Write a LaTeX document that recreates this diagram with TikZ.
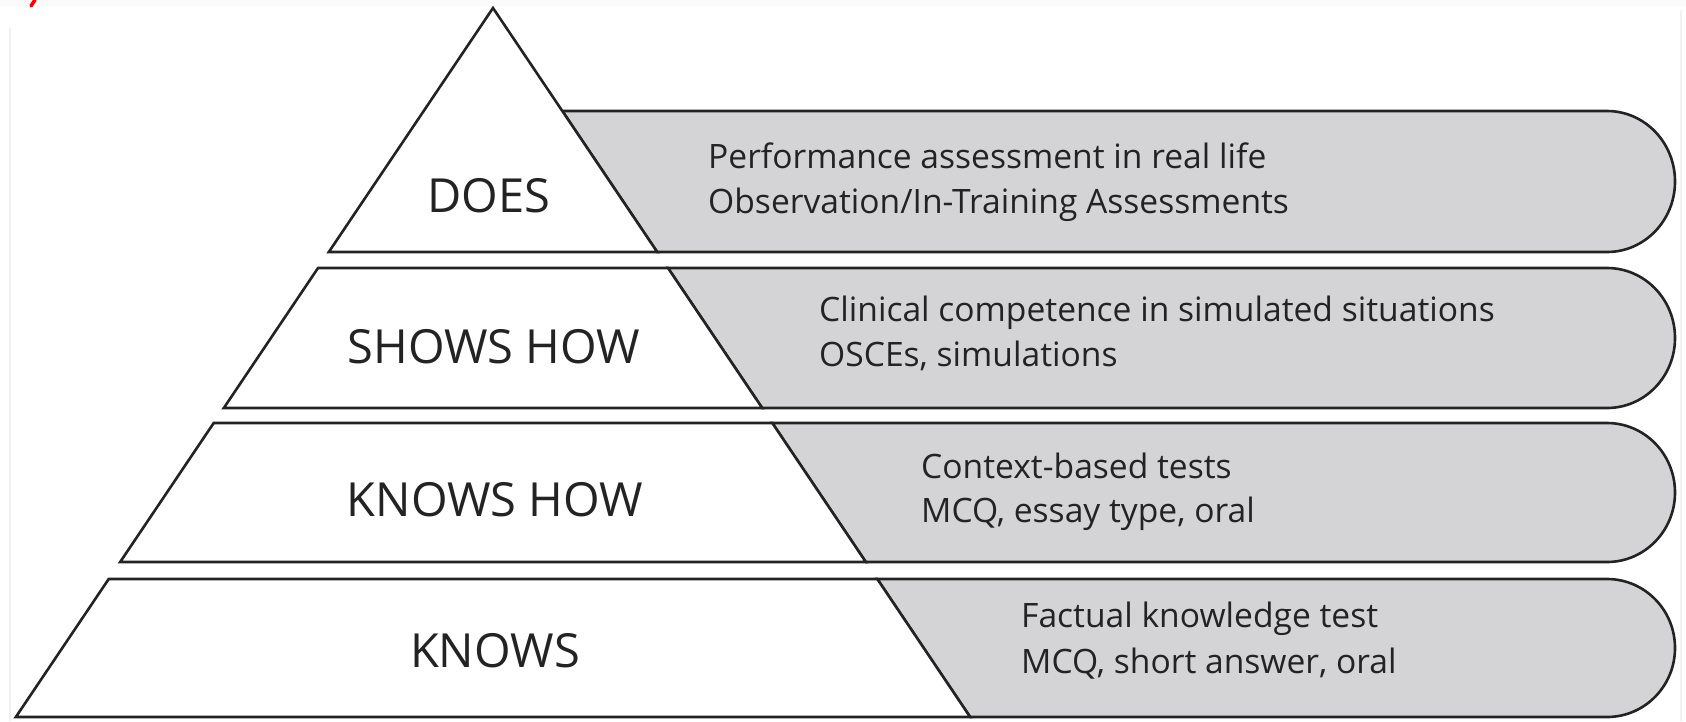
\documentclass[tikz,border=0pt]{standalone}
\usepackage{fontspec}
\setmainfont{Open Sans}
\definecolor{bandgray}{RGB}{212,212,214}
\definecolor{edgeblack}{RGB}{35,35,35}
\tikzset{
  tier/.style={fill=white, draw=edgeblack, line width=2.6pt, line join=miter},
  bandshape/.style={fill=bandgray, draw=edgeblack, line width=2.6pt, line join=miter},
  biglabel/.style={anchor=base, inner sep=0pt, font=\fontsize{47}{47}\selectfont, text=edgeblack},
  smalllabel/.style={anchor=base west, inner sep=0pt, font=\fontsize{33.6}{33.6}\selectfont, text=edgeblack},
}
\newcommand{\pyrband}[2]{%
  \pgfmathsetmacro{\pbxa}{493+0.673*(#1-8)}%
  \pgfmathsetmacro{\pbxb}{493+0.673*(#2-8)}%
  \pgfmathsetmacro{\pbym}{(#1+#2)/2}%
  \pgfmathsetmacro{\pbry}{(#2-#1)/2}%
  \filldraw[bandshape] (\pbxa,#1) -- (1607,#1)
    .. controls (1644.6,#1) and (1675,\pbym-0.5523*\pbry) .. (1675,\pbym)
    .. controls (1675,\pbym+0.5523*\pbry) and (1644.6,#2) .. (1607,#2)
    -- (\pbxb,#2) -- cycle;
}
\newcommand{\pyrtier}[2]{%
  \pgfmathsetmacro{\ptl}{493-0.673*(#1-8)}%
  \pgfmathsetmacro{\ptr}{493+0.673*(#1-8)}%
  \pgfmathsetmacro{\pbl}{493-0.673*(#2-8)}%
  \pgfmathsetmacro{\pbr}{493+0.673*(#2-8)}%
  \filldraw[tier] (\ptl,#1) -- (\ptr,#1) -- (\pbr,#2) -- (\pbl,#2) -- cycle;
}
\begin{document}
\begin{tikzpicture}[x=1pt,y=-1pt]
\useasboundingbox (0,0) rectangle (1686,721);
\fill[white] (0,0) rectangle (1686,721);
\fill[gray!4] (0,0) rectangle (1686,6);
\draw[gray!12, line width=1.5pt] (10,28) -- (10,721);
\draw[gray!10, line width=1.5pt] (1681,10) -- (1681,721);
\draw[red, line width=3.5pt, line cap=round] (31,6) -- (35,0);

% grey bands
\pyrband{111}{252}
\pyrband{268}{408}
\pyrband{423}{562}
\pyrband{579}{717}

% pyramid tiers
\filldraw[tier] (493,8) -- (657.2,252) -- (328.8,252) -- cycle;
\pyrtier{268}{408}
\pyrtier{423}{562}
\pyrtier{579}{717}

% tier labels
\node[biglabel] (does) at (489,212) {DOES};
\node[biglabel] (showshow) at (494,363) {SHOWS HOW};
\node[biglabel] (knowshow) at (495,516) {KNOWS HOW};
\node[biglabel] (knows) at (495,667) {KNOWS};

% band texts
\node[smalllabel] (d1) at (708,168) {Performance assessment in real life};
\node[smalllabel] (d2) at (708,213) {Observation/In-Training Assessments};
\node[smalllabel] (s1) at (819,321) {Clinical competence in simulated situations};
\node[smalllabel] (s2) at (819,366) {OSCEs, simulations};
\node[smalllabel] (kh1) at (921,478) {Context-based tests};
\node[smalllabel] (kh2) at (921,522) {MCQ, essay type, oral};
\node[smalllabel] (k1) at (1021,627) {Factual knowledge test};
\node[smalllabel] (k2) at (1021,673) {MCQ, short answer, oral};
\end{tikzpicture}
\end{document}
